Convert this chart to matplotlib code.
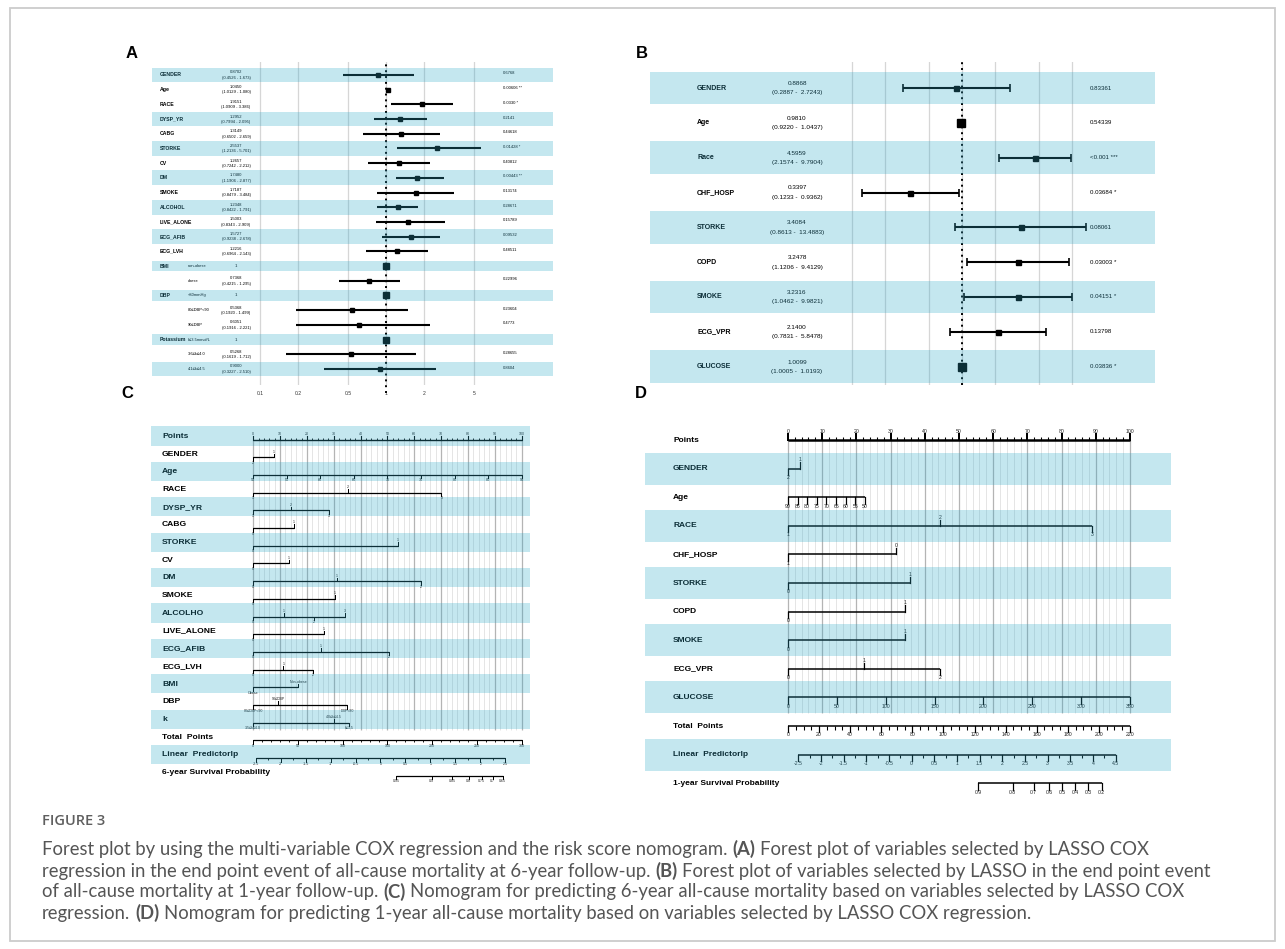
import numpy as np
import matplotlib
matplotlib.use('Agg')
import matplotlib.pyplot as plt
from matplotlib import font_manager
from matplotlib.patches import Rectangle
from matplotlib.ticker import NullLocator

W, H = 1285, 949
nan = np.nan

# ---------------- A: multivariable COX, 6-year follow-up ----------------
a_vars = ['GENDER', 'Age', 'RACE', 'DYSP_YR', 'CABG', 'STORKE', 'CV', 'DM',
          'SMOKE', 'ALCOHOL', 'LIVE_ALONE', 'ECG_AFIB', 'ECG_LVH',
          'BMI', '', 'DBP', '', '', 'Potassium', '', '']
a_levels = ['', '', '', '', '', '', '', '', '', '', '', '', '',
            'non-obese', 'obese', '<80mmHg', '80≤DBP<90', '90≤DBP',
            'k≤3.5mmol/L', '3.6≤k≤4.0', '4.1≤k≤4.5']
a_hr = [0.8702, 1.0450, 1.9151, 1.2952, 1.3149, 2.5537, 1.2657, 1.7480,
        1.7187, 1.2348, 1.5003, 1.5727, 1.2216,
        1, 0.7368, 1, 0.5368, 0.6051, 1, 0.5268, 0.9000]
a_lo = [0.4526, 1.0129, 1.0909, 0.7994, 0.6502, 1.2136, 0.7242, 1.1906,
        0.8479, 0.8422, 0.8343, 0.9238, 0.6964,
        nan, 0.4215, nan, 0.1920, 0.1916, nan, 0.1619, 0.3227]
a_hi = [1.673, 1.080, 3.386, 2.095, 2.659, 5.701, 2.212, 2.877,
        3.484, 1.791, 2.909, 2.678, 2.143,
        nan, 1.295, nan, 1.499, 2.221, nan, 1.712, 2.510]
a_p = ['0.6768', '0.00606 **', '0.0330 *', '0.2141', '0.44618', '0.01428 *',
       '0.40812', '0.00443 **', '0.13174', '0.28671', '0.15789', '0.09532',
       '0.48511', '', '0.22996', '', '0.23604', '0.4773', '', '0.28655', '0.8604']
a_ticks = [0.1, 0.2, 0.5, 1, 2, 5]
a_band_rows = [0, 3, 5, 7, 9, 11, 13, 15, 18, 20]

# ---------------- B: LASSO COX, 1-year follow-up ----------------
b_vars = ['GENDER', 'Age', 'Race', 'CHF_HOSP', 'STORKE', 'COPD', 'SMOKE',
          'ECG_VPR', 'GLUCOSE']
b_hr = [0.8868, 0.9810, 4.5959, 0.3397, 3.4084, 3.2478, 3.2316, 2.1400, 1.0099]
b_lo = [0.2887, 0.9220, 2.1574, 0.1233, 0.8613, 1.1206, 1.0462, 0.7831, 1.0005]
b_hi = [2.7243, 1.0437, 9.7904, 0.9362, 13.4883, 9.4129, 9.9821, 5.8478, 1.0193]
b_p = ['0.83361', '0.54339', '<0.001 ***', '0.03684 *', '0.08061', '0.03003 *',
       '0.04151 *', '0.13798', '0.03836 *']
b_grid = [0.1, 0.2, 0.5, 1, 2, 5, 10]

# ---------------- C: 6-year nomogram (positions in points) ----------------
c_rows = ['Points', 'GENDER', 'Age', 'RACE', 'DYSP_YR', 'CABG', 'STORKE', 'CV',
          'DM', 'SMOKE', 'ALCOLHO', 'LIVE_ALONE', 'ECG_AFIB', 'ECG_LVH', 'BMI',
          'DBP', 'k', 'Total  Points', 'Linear  Predictorlp',
          '6-year Survival Probability']
c_labels = {
    'GENDER': ['2', '1'],
    'Age': ['50', '55', '60', '65', '70', '75', '80', '85', '90'],
    'RACE': ['1', '2', '3'],
    'DYSP_YR': ['1', '2', '3'],
    'CABG': ['0', '1'],
    'STORKE': ['0', '1'],
    'CV': ['0', '1'],
    'DM': ['0', '1', '2'],
    'SMOKE': ['0', '1'],
    'ALCOLHO': ['0', '1', '2', '3'],
    'LIVE_ALONE': ['0', '1'],
    'ECG_AFIB': ['0', '1', '2'],
    'ECG_LVH': ['0', '1', '2'],
    'BMI': ['Obese', 'Non-obese'],
    'DBP': ['80≤DBP<90', '90≤DBP', 'DBP<80'],
    'k': ['3.5≤k≤4.0', '4.0≤k≤4.5', 'k≤3.5'],
}
c_points = {
    'GENDER': [0, 7.8],
    'Age': [0, 12.5, 25, 37.5, 50, 62.5, 75, 87.5, 100],
    'RACE': [0, 35.2, 70.1],
    'DYSP_YR': [0, 14.1, 28.2],
    'CABG': [0, 15.2],
    'STORKE': [0, 54.0],
    'CV': [0, 13.4],
    'DM': [0, 31.2, 62.5],
    'SMOKE': [0, 30.5],
    'ALCOLHO': [0, 11.4, 22.7, 34.1],
    'LIVE_ALONE': [0, 26.4],
    'ECG_AFIB': [0, 25.3, 50.6],
    'ECG_LVH': [0, 11.2, 22.3],
    'BMI': [0, 16.8],
    'DBP': [0, 9.3, 34.9],
    'k': [0, 30.0, 35.7],
}
c_total = [0, 50, 100, 150, 200, 250, 300]
c_lp = [-2.5, -2, -1.5, -1, -0.5, 0, 0.5, 1, 1.5, 2, 2.5]
c_lp_span = [0.9, 93.9]
c_surv = [0.95, 0.9, 0.85, 0.8, 0.75, 0.7, 0.65]
c_surv_points = [53.2, 66.5, 74.0, 80.3, 85.1, 89.2, 92.9]

# ---------------- D: 1-year nomogram ----------------
d_rows = ['Points', 'GENDER', 'Age', 'RACE', 'CHF_HOSP', 'STORKE', 'COPD',
          'SMOKE', 'ECG_VPR', 'GLUCOSE', 'Total  Points', 'Linear  Predictorlp',
          '1-year Survival Probability']
d_labels = {
    'GENDER': ['2', '1'],
    'Age': ['90', '85', '80', '75', '70', '65', '60', '55', '50'],
    'RACE': ['1', '2', '3'],
    'CHF_HOSP': ['1', '0'],
    'STORKE': ['0', '1'],
    'COPD': ['0', '1'],
    'SMOKE': ['0', '1'],
    'ECG_VPR': ['0', '1', '2'],
    'GLUCOSE': ['0', '50', '100', '150', '200', '250', '300', '350'],
}
d_points = {
    'GENDER': [0, 3.6],
    'Age': [0, 2.8, 5.6, 8.4, 11.2, 14.1, 16.9, 19.7, 22.5],
    'RACE': [0, 44.4, 88.9],
    'CHF_HOSP': [0, 31.6],
    'STORKE': [0, 35.8],
    'COPD': [0, 34.3],
    'SMOKE': [0, 34.3],
    'ECG_VPR': [0, 22.3, 44.4],
    'GLUCOSE': [0, 14.3, 28.6, 42.9, 57.1, 71.4, 85.7, 100],
}
d_total = [0, 20, 40, 60, 80, 100, 120, 140, 160, 180, 200, 220]
d_lp = [-2.5, -2, -1.5, -1, -0.5, 0, 0.5, 1, 1.5, 2, 2.5, 3, 3.5, 4, 4.5]
d_lp_span = [3.0, 95.8]
d_surv = [0.9, 0.8, 0.7, 0.6, 0.5, 0.4, 0.3, 0.2]
d_surv_points = [55.7, 65.7, 71.8, 76.4, 80.2, 84.0, 87.7, 91.7]

continuous = {'Age', 'GLUCOSE'}
point_ticks = list(range(0, 101, 10))

# ---------------- styling ----------------
installed = {f.name for f in font_manager.fontManager.ttflist}
SANS = 'Liberation Sans' if 'Liberation Sans' in installed else 'DejaVu Sans'
NARROW = 'Liberation Sans Narrow' if 'Liberation Sans Narrow' in installed else SANS
OPEN = 'Open Sans' if 'Open Sans' in installed else SANS
CAP = 'Lato' if 'Lato' in installed else SANS

BAND = (0.175, 0.664, 0.79)
BAND_ALPHA = 0.28
GRID = '#d6d6d6'

fig = plt.figure(figsize=(W / 100, H / 100), dpi=100)


def px_axes(x0, y0, x1, y1):
    ax = fig.add_axes([x0 / W, 1 - y1 / H, (x1 - x0) / W, (y1 - y0) / H])
    for s in ax.spines.values():
        s.set_visible(False)
    ax.set_yticks([])
    return ax


def band(ax, r, half):
    # translucent strip laid over the row, so everything under it takes a teal tint
    ax.axhspan(r - half, r + half, color=BAND, alpha=BAND_ALPHA, lw=0, zorder=10)


# ======================= panel A =======================
A_X0, A_X1 = 152, 553
axA = px_axes(A_X0, 62, A_X1, 385)
axA.set_xscale('log')
axA.set_xlim(0.0139, 21.1)
axA.set_ylim(21.09, -0.88)
axA.set_xticks(a_ticks)
axA.set_xticklabels([f'{t:g}' for t in a_ticks])
axA.xaxis.set_minor_locator(NullLocator())
axA.tick_params(axis='x', length=0, labelsize=3.6, pad=4.5, labelcolor='#333333')
for lab in axA.get_xticklabels():
    lab.set_family(SANS)
axA.grid(axis='x', color=GRID, lw=0.9)
axA.set_axisbelow(True)
axA.axvline(1, ymin=-0.025, ymax=1, color='k', ls=(0, (1, 2)), lw=1.4,
            zorder=4, clip_on=False)

tA = axA.get_yaxis_transform()
fA = lambda px: (px - A_X0) / (A_X1 - A_X0)
for r in range(len(a_vars)):
    hr, lo, hi = a_hr[r], a_lo[r], a_hi[r]
    if np.isnan(lo):
        axA.plot(hr, r, 's', ms=3.8, color='k', zorder=5)
        axA.text(fA(236), r, '1', transform=tA, fontsize=3.1, ha='center',
                 va='center', family=SANS)
    else:
        axA.plot([lo, hi], [r, r], color='k', lw=1.5, solid_capstyle='butt', zorder=5)
        axA.plot(hr, r, 's', ms=3.2, color='k', zorder=5)
        axA.text(fA(236), r - 0.17, f'{hr:.4f}', transform=tA, fontsize=3.0,
                 ha='center', va='center', family=SANS)
        axA.text(fA(236), r + 0.19, f'({lo:.4f} - {hi:.3f})', transform=tA,
                 fontsize=3.0, ha='center', va='center', family=SANS)
    axA.text(fA(160), r, a_vars[r], transform=tA, fontsize=3.7, fontweight='bold',
             va='center', family=SANS)
    axA.text(fA(188), r, a_levels[r], transform=tA, fontsize=2.9, va='center',
             family=SANS)
    axA.text(fA(503), r - 0.1, a_p[r], transform=tA, fontsize=3.0, va='center',
             family=SANS)
for r in a_band_rows:
    band(axA, r, 0.36 if np.isnan(a_lo[r]) else 0.5)

# ======================= panel B =======================
B_X0, B_X1 = 650, 1155
axB = px_axes(B_X0, 62, B_X1, 385)
axB.set_xscale('log')
axB.set_xlim(0.00146, 56.8)
axB.set_ylim(8.53, -0.75)
axB.set_xticks(b_grid)
axB.set_xticklabels([])
axB.xaxis.set_minor_locator(NullLocator())
axB.tick_params(axis='x', length=0)
axB.grid(axis='x', color=GRID, lw=0.9)
axB.set_axisbelow(True)
axB.axvline(1, color='k', ls=(0, (1, 2)), lw=1.4, zorder=4)

tB = axB.get_yaxis_transform()
fB = lambda px: (px - B_X0) / (B_X1 - B_X0)
for r in range(len(b_vars)):
    hr, lo, hi = b_hr[r], b_lo[r], b_hi[r]
    ms = float(np.clip(1.6 / np.log10(hi / lo), 3.6, 5.2))
    axB.errorbar(hr, r, xerr=[[hr - lo], [hi - hr]], fmt='s', ms=ms, color='k',
                 ecolor='k', elinewidth=1.5, capsize=2.6, capthick=1.2, zorder=5)
    axB.text(fB(697), r, b_vars[r], transform=tB, fontsize=5.0, fontweight='bold',
             va='center', family=NARROW)
    axB.text(fB(797), r - 0.13, f'{hr:.4f}', transform=tB, fontsize=4.6,
             ha='center', va='center', family=NARROW)
    axB.text(fB(797), r + 0.14, f'({lo:.4f} -  {hi:.4f})', transform=tB,
             fontsize=4.6, ha='center', va='center', family=NARROW)
    axB.text(fB(1090), r, b_p[r], transform=tB, fontsize=4.4, va='center',
             family=NARROW)
for r in range(0, len(b_vars), 2):
    band(axB, r, 0.47)


# ======================= nomograms =======================
def scale(ax, y, pos, labels, sides, st, z=3):
    ax.plot([min(pos), max(pos)], [y, y], color='k', lw=st['lw'],
            solid_capstyle='butt', zorder=z)
    for p, lab, side in zip(pos, labels, sides):
        d = -st['tick'] if side == 'up' else st['tick']
        ax.plot([p, p], [y, y + d], color='k', lw=st['lw'] * 0.8, zorder=z)
        ax.text(p, y + d, lab, ha='center', va='bottom' if side == 'up' else 'top',
                fontsize=st['fs_tick'], family=st['tick_family'], color='#222222',
                zorder=z)


def minor(ax, y, pos, up, st):
    d = -st['tick'] * 0.55 if up else st['tick'] * 0.55
    ax.vlines(pos, y, y + d, color='k', lw=st['lw'] * 0.7, zorder=3)


def nomogram(ax, rows, labels, points, total, total_step, lp, lp_span, surv,
             surv_points, band_rows, grid_end, st):
    dy = st['dy']
    lx = st['label_x']
    trans = ax.get_yaxis_transform()
    for r, name in enumerate(rows):
        ax.text(lx, r + st['text_dy'], name, transform=trans, fontsize=st['fs_lab'],
                fontweight='bold', family=st['lab_family'], va='center', zorder=3)

    # points ruler and its grid
    minors = [v for v in range(0, 101, 2) if v % 10]
    ax.vlines(point_ticks, dy, grid_end, color='#b4b4b4', lw=0.9, zorder=1)
    ax.vlines(minors, dy, grid_end, color='#e0e0e0', lw=0.6, zorder=1)
    scale(ax, dy, point_ticks, [str(v) for v in point_ticks],
          ['up'] * len(point_ticks), dict(st, lw=st['lw_points']))
    minor(ax, dy, minors, True, st)

    # one ruler per predictor
    for r, name in enumerate(rows):
        if name not in labels:
            continue
        labs = labels[name]
        if name in continuous:
            sides = ['down'] * len(labs)
        else:
            sides = ['down' if i % 2 == 0 else 'up' for i in range(len(labs))]
        scale(ax, r + dy, points[name], labs, sides, st)

    r_tot = len(rows) - 3
    tmax = total[-1]
    tot_pos = [100 * v / tmax for v in total]
    scale(ax, r_tot + dy, tot_pos, [str(v) for v in total], ['down'] * len(total), st)
    tot_minor = [100 * v / tmax for v in np.arange(0, tmax + 1, total_step)
                 if v not in total]
    minor(ax, r_tot + dy, tot_minor, False, st)

    lp_pos = list(np.interp(lp, [lp[0], lp[-1]], lp_span))
    scale(ax, r_tot + 1 + dy, lp_pos, [f'{v:g}' for v in lp], ['down'] * len(lp), st)
    lp_half = [(a + b) / 2 for a, b in zip(lp_pos[:-1], lp_pos[1:])]
    minor(ax, r_tot + 1 + dy, lp_half, False, st)

    scale(ax, r_tot + 2 + dy, surv_points, [f'{v:g}' for v in surv],
          ['down'] * len(surv), st)

    for r in band_rows:
        band(ax, r, st['band_half'])


C_X0, C_X1 = 151, 530
axC = px_axes(C_X0, 426, C_X1, 785)
axC.set_xlim(-38.1, 103.1)
axC.set_ylim(19.72, -0.565)
axC.set_xticks([])
styleC = dict(dy=0.2, text_dy=0.02, label_x=(162 - C_X0) / (C_X1 - C_X0),
              fs_lab=6.1, lab_family=SANS, fs_tick=2.6, tick_family=SANS,
              tick=0.2, lw=0.9, lw_points=1.0, band_half=0.54)
nomogram(axC, c_rows, c_labels, c_points, c_total, 10, c_lp, c_lp_span, c_surv,
         c_surv_points, range(0, 19, 2), 16.6, styleC)

D_X0, D_X1 = 645, 1171
axD = px_axes(D_X0, 420, D_X1, 795)
axD.set_xlim(-41.8, 112.0)
axD.set_ylim(12.41, -0.7)
axD.set_xticks([])
styleD = dict(dy=0.0, text_dy=0.0, label_x=(673 - D_X0) / (D_X1 - D_X0),
              fs_lab=6.0, lab_family=NARROW, fs_tick=3.7, tick_family=NARROW,
              tick=0.22, lw=1.1, lw_points=1.8, band_half=0.56)
nomogram(axD, d_rows, d_labels, d_points, d_total, 5, d_lp, d_lp_span, d_surv,
         d_surv_points, range(1, 12, 2), 9.56, styleD)

# ======================= panel letters, frame, caption =======================
for letter, (x, y) in zip('ABCD', [(132, 53), (642, 53), (127, 393), (641, 393)]):
    fig.text(x / W, 1 - y / H, letter, fontsize=12, fontweight='bold',
             family=SANS, ha='center', va='center')

fig.add_artist(Rectangle((10 / W, 1 - 941 / H), 1265 / W, 933 / H,
                         transform=fig.transFigure, fill=False,
                         ec='#cccccc', lw=1.3))

fig.text(42 / W, 1 - 821 / H, 'FIGURE 3', fontsize=10.5, fontweight='semibold',
         family=OPEN, color='#5f5f5f', va='center')

caption = [
    [('Forest plot by using the multi-variable COX regression and the risk score nomogram.', False),
     ('(A)', True), ('Forest plot of variables selected by LASSO COX', False)],
    [('regression in the end point event of all-cause mortality at 6-year follow-up.', False),
     ('(B)', True), ('Forest plot of variables selected by LASSO in the end point event', False)],
    [('of all-cause mortality at 1-year follow-up.', False), ('(C)', True),
     ('Nomogram for predicting 6-year all-cause mortality based on variables selected by LASSO COX', False)],
    [('regression.', False), ('(D)', True),
     ('Nomogram for predicting 1-year all-cause mortality based on variables selected by LASSO COX regression.', False)],
]
renderer = fig.canvas.get_renderer()
CAP_W = {False: 'normal', True: 'bold'}


def width(s, fs, bold):
    t = fig.text(0, 0, s, fontsize=fs, family=CAP, fontweight=CAP_W[bold])
    w = t.get_window_extent(renderer).width
    t.remove()
    return w


def line_width(parts, fs):
    sp = width('x x', fs, False) - width('xx', fs, False)
    return sum(width(s, fs, b) for s, b in parts) + sp * (len(parts) - 1)


fs_cap = 10 * 1173 / line_width(caption[1], 10)
space = width('x x', fs_cap, False) - width('xx', fs_cap, False)
for parts, y in zip(caption, [849, 871, 892, 913]):
    x = 42
    for s, bold in parts:
        t = fig.text(x / W, 1 - y / H, s, fontsize=fs_cap, family=CAP,
                     fontweight=CAP_W[bold], color='#555555',
                     va='center', ha='left')
        x += t.get_window_extent(renderer).width + space

fig.savefig('out.png', dpi=100)
